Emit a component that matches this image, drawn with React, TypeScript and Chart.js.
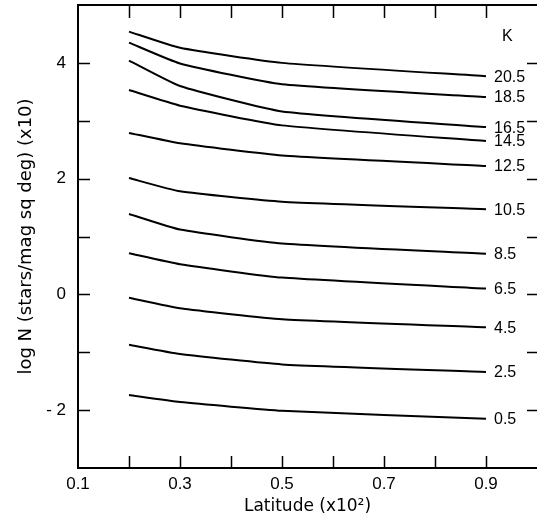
import React, { useEffect, useRef } from "react";
import { Chart, registerables } from "chart.js";

Chart.register(...registerables);

const latitudes = [0.2, 0.3, 0.5, 0.9];
const magnitudes = ["20.5", "18.5", "16.5", "14.5", "12.5", "10.5", "8.5", "6.5", "4.5", "2.5", "0.5"];
const k205 = [4.54, 4.26, 4.0, 3.77];
const k185 = [4.35, 3.99, 3.63, 3.41];
const k165 = [4.04, 3.6, 3.16, 2.89];
const k145 = [3.53, 3.26, 2.92, 2.65];
const k125 = [2.79, 2.61, 2.4, 2.22];
const k105 = [2.01, 1.78, 1.6, 1.47];
const k85 = [1.39, 1.12, 0.88, 0.7];
const k65 = [0.71, 0.52, 0.29, 0.1];
const k45 = [-0.06, -0.24, -0.43, -0.57];
const k25 = [-0.87, -1.03, -1.21, -1.34];
const k05 = [-1.74, -1.86, -2.01, -2.15];
const seriesValues = [k205, k185, k165, k145, k125, k105, k85, k65, k45, k25, k05];
const xTickLabels = [0.1, 0.3, 0.5, 0.7, 0.9];
const yTickLabels = [-2, 0, 2, 4];
const headerLabel = "K";

const FONT = "'Liberation Sans', Arial, sans-serif";

const framePlugin = {
  id: "framePlugin",
  afterDraw(chart: any) {
    const ctx = chart.ctx;
    const { left, right, top, bottom } = chart.chartArea;
    const xs = chart.scales.x;
    const ys = chart.scales.y;
    ctx.save();
    ctx.strokeStyle = "#000";
    ctx.lineWidth = 2;
    ctx.beginPath();
    ctx.moveTo(left - 1, top);
    ctx.lineTo(right, top);
    ctx.stroke();
    ctx.lineWidth = 1.5;
    ctx.beginPath();
    xs.ticks.forEach((t: any) => {
      const v = Math.round(t.value * 10);
      if (v < 2 || v > 9) return;
      const px = Math.round(xs.getPixelForValue(t.value)) + 0.5;
      ctx.moveTo(px, top);
      ctx.lineTo(px, top + 13);
      ctx.moveTo(px, bottom);
      ctx.lineTo(px, bottom - 12);
    });
    ys.ticks.forEach((t: any) => {
      const v = Math.round(t.value);
      if (v < -2 || v > 4) return;
      const py = Math.round(ys.getPixelForValue(t.value)) + 0.5;
      ctx.moveTo(left, py);
      ctx.lineTo(left + 12, py);
      ctx.moveTo(right, py);
      ctx.lineTo(right - 10, py);
    });
    ctx.stroke();
    ctx.fillStyle = "#000";
    ctx.font = `16px ${FONT}`;
    ctx.textAlign = "left";
    ctx.textBaseline = "middle";
    chart.data.datasets.forEach((ds: any, i: number) => {
      const meta = chart.getDatasetMeta(i);
      const last = meta.data[meta.data.length - 1];
      ctx.fillText(ds.label, last.x + 8, last.y + 1);
    });
    const first = chart.getDatasetMeta(0).data;
    const lastPt = first[first.length - 1];
    ctx.fillText(headerLabel, lastPt.x + 16, ys.getPixelForValue(4.45));
    ctx.restore();
  },
};

export default function App() {
  const ref = useRef<HTMLCanvasElement>(null);
  useEffect(() => {
    const datasets = seriesValues.map((vals, i) => ({
      label: magnitudes[i],
      data: vals.map((v, j) => ({ x: latitudes[j], y: v })),
      borderColor: "#000",
      borderWidth: 2,
      pointRadius: 0,
      tension: 0.15,
      fill: false,
    }));
    const chart = new Chart(ref.current as HTMLCanvasElement, {
      type: "line",
      data: { datasets },
      options: {
        animation: false,
        responsive: false,
        layout: { padding: { top: 5, right: 0, left: 0, bottom: 0 } },
        plugins: { legend: { display: false }, tooltip: { enabled: false } },
        scales: {
          x: {
            type: "linear",
            min: 0.1,
            max: 1.0,
            afterFit: (s: any) => {
              s.height = 53;
              s.paddingLeft = 0;
              s.paddingRight = 0;
            },
            grid: { display: false, drawTicks: false },
            border: { display: true, color: "#000", width: 2 },
            ticks: {
              stepSize: 0.1,
              autoSkip: false,
              maxRotation: 0,
              padding: 6,
              color: "#000",
              font: { family: FONT, size: 17 },
              callback: (v: any) => {
                const n = Math.round(Number(v) * 10);
                return xTickLabels.some((t) => Math.round(t * 10) === n) ? (n / 10).toFixed(1) : "";
              },
            },
            title: {
              display: true,
              text: "Latitude (x10²)",
              color: "#000",
              font: { family: "'DejaVu Sans', sans-serif", size: 17 },
              padding: { top: 0, bottom: 4 },
            },
          },
          y: {
            type: "linear",
            min: -3,
            max: 5,
            afterFit: (s: any) => {
              s.width = 78;
              s.paddingTop = 0;
              s.paddingBottom = 0;
            },
            grid: { display: false, drawTicks: false },
            border: { display: true, color: "#000", width: 2 },
            ticks: {
              stepSize: 1,
              autoSkip: false,
              padding: 12,
              color: "#000",
              font: { family: FONT, size: 17 },
              callback: (v: any) => {
                const n = Math.round(Number(v));
                return yTickLabels.includes(n) ? (n < 0 ? "- " + Math.abs(n) : String(n)) : "";
              },
            },
            title: {
              display: true,
              text: "log N (stars/mag sq deg) (x10)",
              color: "#000",
              font: { family: "'DejaVu Sans', sans-serif", size: 18 },
              padding: { top: 16, bottom: 0 },
            },
          },
        },
      },
      plugins: [framePlugin],
    });
    return () => chart.destroy();
  }, []);
  return (
    <div style={{ position: "absolute", left: 0, top: 0, width: 537, height: 521, background: "#fff" }}>
      <canvas ref={ref} width={537} height={521} />
    </div>
  );
}
